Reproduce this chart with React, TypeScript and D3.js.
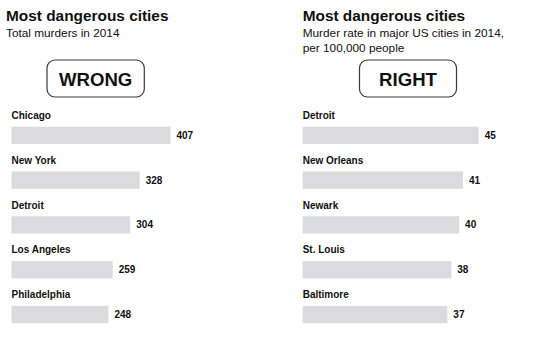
import React from "react";
import * as d3 from "d3";

const leftCities = ["Chicago", "New York", "Detroit", "Los Angeles", "Philadelphia"];
const leftValues = [407, 328, 304, 259, 248];
const rightCities = ["Detroit", "New Orleans", "Newark", "St. Louis", "Baltimore"];
const rightValues = [45, 41, 40, 38, 37];

const title = "Most dangerous cities";
const leftSubtitle = ["Total murders in 2014"];
const rightSubtitle = ["Murder rate in major US cities in 2014,", "per 100,000 people"];
const leftTag = "WRONG";
const rightTag = "RIGHT";

const FONT = "'Liberation Sans', Arial, Helvetica, sans-serif";
const INK = "#111";
const BAR = "#dbdbdd";

type PanelProps = {
  x0: number;
  titleX: number;
  cities: string[];
  values: number[];
  domainMax: number;
  pxWidth: number;
  subtitle: string[];
  tag: string;
  box: { x: number; w: number };
};

function Panel({ x0, titleX, cities, values, domainMax, pxWidth, subtitle, tag, box }: PanelProps) {
  const x = d3.scaleLinear().domain([0, domainMax]).range([x0, x0 + pxWidth]);
  const y = d3.scaleBand<string>().domain(cities).range([104, 328]);
  const barTop = 22.7;
  const barH = 17.3;
  return (
    <g>
      <text x={titleX} y={20.7} fontFamily={FONT} fontWeight="bold" fontSize={15.4} fill={INK}>
        {title}
      </text>
      {subtitle.map((s, i) => (
        <text key={i} x={titleX} y={36.7 + i * 15} fontFamily={FONT} fontSize={11.8} fill={INK}>
          {s}
        </text>
      ))}
      <rect x={box.x} y={60} width={box.w} height={37} rx={8} ry={8} fill="#fff" stroke="#3a3a3a" strokeWidth={1.2} />
      <text
        x={box.x + box.w / 2}
        y={85.8}
        textAnchor="middle"
        fontFamily={FONT}
        fontWeight="bold"
        fontSize={18.6}
        fill={INK}
      >
        {tag}
      </text>
      {cities.map((c, i) => {
        const by = (y(c) as number);
        return (
          <g key={c}>
            <text x={x0} y={by + 15} fontFamily={FONT} fontWeight="bold" fontSize={10} fill={INK}>
              {c}
            </text>
            <rect x={x(0)} y={by + barTop} width={x(values[i]) - x(0)} height={barH} fill={BAR} />
            <text
              x={x(values[i]) + 6}
              y={by + barTop + barH / 2}
              dy="0.35em"
              fontFamily={FONT}
              fontWeight="bold"
              fontSize={10}
              fill={INK}
            >
              {values[i]}
            </text>
          </g>
        );
      })}
    </g>
  );
}

export default function App() {
  return (
    <svg
      width={538}
      height={347}
      viewBox="0 0 538 347"
      style={{ position: "absolute", left: 0, top: 0, background: "#fff" }}
    >
      <rect width={538} height={347} fill="#fff" />
      <Panel
        x0={11.5}
        titleX={6}
        cities={leftCities}
        values={leftValues}
        domainMax={450}
        pxWidth={450 * 0.3907}
        subtitle={leftSubtitle}
        tag={leftTag}
        box={{ x: 47, w: 97.3 }}
      />
      <Panel
        x0={302.7}
        titleX={302.7}
        cities={rightCities}
        values={rightValues}
        domainMax={50}
        pxWidth={50 * 3.91}
        subtitle={rightSubtitle}
        tag={rightTag}
        box={{ x: 359.5, w: 97 }}
      />
    </svg>
  );
}
